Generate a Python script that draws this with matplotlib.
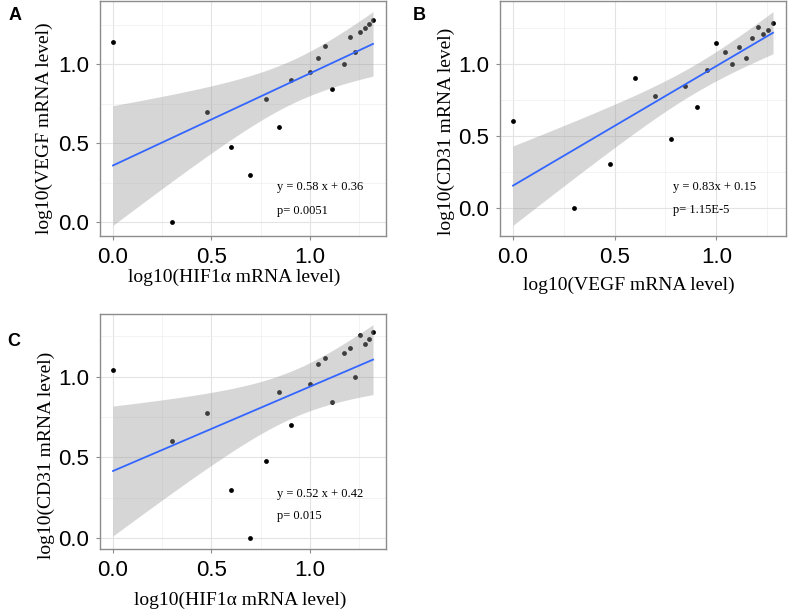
import numpy as np
import matplotlib
matplotlib.use("Agg")
import matplotlib.pyplot as plt
from matplotlib.ticker import MultipleLocator

# ---------------- data ----------------
a_x = [0.0, 0.301, 0.477, 0.602, 0.699, 0.778, 0.845, 0.903, 1.0, 1.041,
       1.079, 1.114, 1.176, 1.204, 1.230, 1.255, 1.279, 1.301, 1.322]
a_y = [1.143, 0.0, 0.699, 0.477, 0.301, 0.778, 0.602, 0.903, 0.954, 1.041,
       1.114, 0.845, 1.0, 1.176, 1.079, 1.204, 1.230, 1.255, 1.279]

b_x = [0.0, 0.301, 0.477, 0.602, 0.699, 0.778, 0.845, 0.903, 0.954, 1.0,
       1.041, 1.079, 1.114, 1.146, 1.176, 1.204, 1.230, 1.255, 1.279]
b_y = [0.602, 0.0, 0.301, 0.903, 0.778, 0.477, 0.845, 0.699, 0.954, 1.146,
       1.079, 1.0, 1.114, 1.041, 1.176, 1.255, 1.204, 1.230, 1.279]

c_x = [0.0, 0.301, 0.477, 0.602, 0.699, 0.778, 0.845, 0.903, 1.0, 1.041,
       1.079, 1.114, 1.176, 1.204, 1.230, 1.255, 1.279, 1.301, 1.322]
c_y = [1.041, 0.602, 0.778, 0.301, 0.0, 0.477, 0.903, 0.699, 0.954, 1.079,
       1.114, 0.845, 1.146, 1.176, 1.0, 1.255, 1.204, 1.230, 1.279]

panel_letters = ["A", "B", "C"]
x_titles = ["log10(HIF1\u03b1 mRNA level)", "log10(VEGF mRNA level)", "log10(HIF1\u03b1 mRNA level)"]
y_titles = ["log10(VEGF mRNA level)", "log10(CD31 mRNA level)", "log10(CD31 mRNA level)"]
eq_texts = ["y = 0.58 x + 0.36", "y = 0.83x + 0.15", "y = 0.52 x + 0.42"]
p_texts = ["p= 0.0051", "p= 1.15E-5", "p= 0.015"]
tick_vals = [0.0, 0.5, 1.0]
tick_labels = ["0.0", "0.5", "1.0"]

T_CRIT = 2.110  # t(0.975, df=17)

W, H = 790, 612
fig = plt.figure(figsize=(W / 100, H / 100), dpi=100)

SANS = "Liberation Sans"
SERIF = "Liberation Serif"


def px_axes(l, t, r, b):
    return fig.add_axes([l / W, 1 - b / H, (r - l) / W, (b - t) / H])


def draw_panel(ax, xs, ys, eq, ptxt, eq_pos, p_pos):
    xs = np.asarray(xs)
    ys = np.asarray(ys)
    n = len(xs)
    slope, icpt = np.polyfit(xs, ys, 1)
    resid = ys - (slope * xs + icpt)
    s = np.sqrt(np.sum(resid ** 2) / (n - 2))
    xbar = xs.mean()
    sxx = np.sum((xs - xbar) ** 2)
    xf = np.linspace(xs.min(), xs.max(), 80)
    yf = slope * xf + icpt
    se = s * np.sqrt(1.0 / n + (xf - xbar) ** 2 / sxx)
    lo = yf - T_CRIT * se
    hi = yf + T_CRIT * se

    ax.scatter(xs, ys, s=12, color="black", zorder=3, linewidths=0)
    ax.fill_between(xf, lo, hi, color="#999999", alpha=0.4, linewidth=0, zorder=4)
    ax.plot(xf, yf, color="#3366FF", lw=1.3, zorder=5)

    xmin, xmax = xs.min(), xs.max()
    ymin = min(ys.min(), lo.min())
    ymax = max(ys.max(), hi.max())
    dx = (xmax - xmin) * 0.05
    dy = (ymax - ymin) * 0.05
    ax.set_xlim(xmin - dx, xmax + dx)
    ax.set_ylim(ymin - dy, ymax + dy)

    ax.xaxis.set_minor_locator(MultipleLocator(0.25))
    ax.yaxis.set_minor_locator(MultipleLocator(0.25))
    ax.set_xticks(tick_vals)
    ax.set_xticklabels(tick_labels)
    ax.set_yticks(tick_vals)
    ax.set_yticklabels(tick_labels)
    ax.grid(which="major", color="#e3e3e3", lw=0.8, zorder=0)
    ax.grid(which="minor", color="#efefef", lw=0.5, zorder=0)
    ax.set_axisbelow(True)
    ax.tick_params(which="minor", length=0)
    ax.tick_params(which="major", length=3, width=0.8, color="#8c8c8c",
                   labelsize=16, pad=5)
    for lab in ax.get_xticklabels() + ax.get_yticklabels():
        lab.set_fontfamily(SANS)
    for sp in ax.spines.values():
        sp.set_color("#8c8c8c")
        sp.set_linewidth(1.0)

    ax.text(eq_pos[0], eq_pos[1], eq, transform=ax.transAxes, ha="left",
            va="center", fontsize=9, family=SERIF)
    ax.text(p_pos[0], p_pos[1], ptxt, transform=ax.transAxes, ha="left",
            va="center", fontsize=9, family=SERIF)


def ftext(x, y, s, **kw):
    fig.text(x / W, 1 - y / H, s, **kw)


# Panel A
axA = px_axes(100, 1, 386, 236)
draw_panel(axA, a_x, a_y, eq_texts[0], p_texts[0],
           ((277 - 100) / 286, (236 - 187) / 235), ((277 - 100) / 286, (236 - 211) / 235))
# Panel B
axB = px_axes(500, 1, 786, 236)
draw_panel(axB, b_x, b_y, eq_texts[1], p_texts[1],
           ((673 - 500) / 286, (236 - 187) / 235), ((673 - 500) / 286, (236 - 210) / 235))
# Panel C
axC = px_axes(100, 314, 386, 549)
draw_panel(axC, c_x, c_y, eq_texts[2], p_texts[2],
           ((277 - 100) / 286, (549 - 494) / 235), ((277 - 100) / 286, (549 - 516) / 235))

# Axis titles
ftext(234, 277, x_titles[0], ha="center", va="center", fontsize=14, family=SERIF)
ftext(44.5, 128, y_titles[0], ha="center", va="center", rotation=90, fontsize=14, family=SERIF)
ftext(629, 285, x_titles[1], ha="center", va="center", fontsize=14, family=SERIF)
ftext(446.5, 131, y_titles[1], ha="center", va="center", rotation=90, fontsize=14, family=SERIF)
ftext(240, 600, x_titles[2], ha="center", va="center", fontsize=14, family=SERIF)
ftext(46.5, 455, y_titles[2], ha="center", va="center", rotation=90, fontsize=14, family=SERIF)

# Panel letters
ftext(15, 15, panel_letters[0], ha="center", va="center", fontsize=13, fontweight="bold", family=SANS)
ftext(419, 15, panel_letters[1], ha="center", va="center", fontsize=13, fontweight="bold", family=SANS)
ftext(14, 342, panel_letters[2], ha="center", va="center", fontsize=13, fontweight="bold", family=SANS)

fig.savefig("out.png", dpi=100)
